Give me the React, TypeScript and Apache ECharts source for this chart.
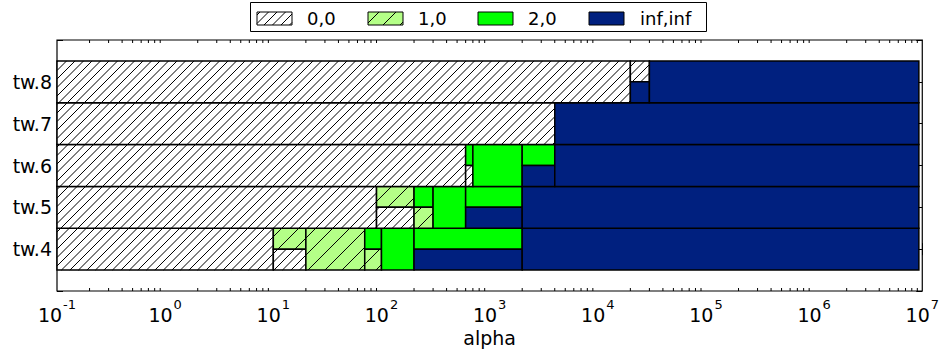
import React, { useEffect, useRef } from "react";
import * as echarts from "echarts";

// ---------- data ----------
const categories = ["tw.4", "tw.5", "tw.6", "tw.7", "tw.8"];
const classNames = ["0,0", "1,0", "2,0", "inf,inf"];
// alpha at which each class begins, upper half of each bar (per category)
const upperStart10 = [10, 90, 600, 4000, 30000];
const upperStart20 = [70, 200, 600, 4000, 30000];
const upperStartInf = [2000, 2000, 4000, 4000, 30000];
// alpha at which each class begins, lower half of each bar
const lowerStart10 = [20, 200, 700, 4000, 20000];
const lowerStart20 = [100, 300, 700, 4000, 20000];
const lowerStartInf = [200, 600, 2000, 4000, 20000];
const alphaStart = 0.1;
const alphaEnd = 9.3e6;
const axisMin = 0.1;
const axisMax = 1e7;
const decadeExponents = [-1, 0, 1, 2, 3, 4, 5, 6];
const minorMultipliers = [2, 3, 4, 5, 6, 7, 8, 9];

// ---------- styles ----------
const classColors = ["#ffffff", "#b4ff87", "#00ff00", "#00207f"];
const classHatch = [8.5, 17, 0, 0];
const FONT = '"DejaVu Sans", sans-serif';

function classAt(starts: number[][], r: number, a: number) {
  let c = 0;
  for (let k = 0; k < starts.length; k++) if (a >= starts[k][r]) c = k + 1;
  return c;
}

function buildSegments() {
  const up = [upperStart10, upperStart20, upperStartInf];
  const lo = [lowerStart10, lowerStart20, lowerStartInf];
  const out: number[][] = [];
  categories.forEach((_, r) => {
    const br = Array.from(
      new Set([alphaStart, ...up.map((s) => s[r]), ...lo.map((s) => s[r]), alphaEnd])
    )
      .filter((v) => v >= alphaStart && v <= alphaEnd)
      .sort((p, q) => p - q);
    for (let i = 0; i < br.length - 1; i++) {
      const a = br[i], b = br[i + 1];
      const cu = classAt(up, r, a), cl = classAt(lo, r, a);
      if (cu === cl) out.push([a, b, r, 0, cu]);
      else {
        out.push([a, b, r, 1, cu]);
        out.push([a, b, r, 2, cl]);
      }
    }
  });
  return out;
}

function hatchLines(x0: number, y0: number, x1: number, y1: number, s: number) {
  const res: any[] = [];
  if (!s) return res;
  const cStart = Math.ceil((x0 + y0) / s) * s;
  for (let c = cStart; c < x1 + y1; c += s) {
    const xa = Math.max(x0, c - y1);
    const xb = Math.min(x1, c - y0);
    if (xb - xa <= 0.2) continue;
    res.push({
      type: "line",
      shape: { x1: xa, y1: c - xa, x2: xb, y2: c - xb },
      style: { stroke: "#000", lineWidth: 1 },
      silent: true,
    });
  }
  return res;
}

function patch(x0: number, y0: number, x1: number, y1: number, cls: number, lw: number) {
  return [
    { type: "rect", shape: { x: x0, y: y0, width: x1 - x0, height: y1 - y0 }, style: { fill: classColors[cls], stroke: "none" } },
    ...hatchLines(x0, y0, x1, y1, classHatch[cls]),
    { type: "rect", shape: { x: x0, y: y0, width: x1 - x0, height: y1 - y0 }, style: { fill: "none", stroke: "#000", lineWidth: lw } },
  ];
}

export default function App() {
  const ref = useRef<HTMLDivElement>(null);
  useEffect(() => {
    if (!ref.current) return;
    const chart = echarts.init(ref.current, undefined, { renderer: "svg" });
    const segments = buildSegments();
    const minorTicks: number[][] = [];
    decadeExponents.forEach((e) =>
      minorMultipliers.forEach((m) => minorTicks.push([m * Math.pow(10, e), -1]))
    );

    const legendPatchX = [257, 368, 478, 589];
    const legendTextX = [307, 418, 528, 640];
    const legendEls: any[] = [
      { type: "rect", shape: { x: 250.5, y: 2.5, width: 456, height: 29 }, style: { fill: "#fff", stroke: "#000", lineWidth: 1 } },
    ];
    classNames.forEach((n, i) => {
      legendEls.push(...patch(legendPatchX[i], 12, legendPatchX[i] + 35, 25, i, 1));
      legendEls.push({
        type: "text",
        x: legendTextX[i],
        y: 18.5,
        style: { text: n, fill: "#000", fontSize: 18, fontFamily: FONT, verticalAlign: "middle", align: "left" },
      });
    });

    const xLabel = {
      fontFamily: FONT,
      color: "#000",
      margin: 7,
      formatter: (v: number) => `{b|10}{s|${Math.round(Math.log10(v))}}`,
      rich: {
        b: { fontSize: 19, fontFamily: FONT, color: "#000", verticalAlign: "bottom", lineHeight: 26 },
        s: { fontSize: 13, fontFamily: FONT, color: "#000", verticalAlign: "top", lineHeight: 26, padding: [0, 0, 0, 1] },
      },
    };

    chart.setOption({
      animation: false,
      backgroundColor: "#fff",
      grid: { left: 57, right: 15, top: 40, bottom: 62, show: true, borderColor: "#000", borderWidth: 1.2, backgroundColor: "#fff" },
      xAxis: [
        {
          type: "log",
          logBase: 10,
          min: axisMin,
          max: axisMax,
          splitNumber: 8,
          name: "alpha",
          nameLocation: "middle",
          nameGap: 35,
          nameTextStyle: { fontSize: 19, fontFamily: FONT, color: "#000" },
          axisLine: { show: false },
          axisTick: { show: true, inside: true, length: 6, lineStyle: { color: "#000" } },
          axisLabel: xLabel,
          splitLine: { show: false },
        },
        {
          type: "log",
          logBase: 10,
          min: axisMin,
          max: axisMax,
          splitNumber: 8,
          position: "top",
          axisLine: { show: false },
          axisTick: { show: true, inside: true, length: 6, lineStyle: { color: "#000" } },
          axisLabel: { show: false },
          splitLine: { show: false },
        },
      ],
      yAxis: [
        {
          type: "value",
          min: -1,
          max: 5,
          interval: 1,
          axisLine: { show: false },
          axisTick: { show: true, inside: true, length: 6, lineStyle: { color: "#000" } },
          axisLabel: {
            fontSize: 19,
            fontFamily: FONT,
            color: "#000",
            margin: 5,
            formatter: (v: number) => categories[v] ?? "",
          },
          splitLine: { show: false },
        },
        {
          type: "value",
          min: -1,
          max: 5,
          interval: 1,
          position: "right",
          axisLine: { show: false },
          axisTick: { show: true, inside: true, length: 6, lineStyle: { color: "#000" } },
          axisLabel: { show: false },
          splitLine: { show: false },
        },
      ],
      graphic: { elements: legendEls },
      series: [
        {
          type: "custom",
          xAxisIndex: 0,
          yAxisIndex: 0,
          silent: true,
          encode: { x: [0, 1], y: 2 },
          data: segments,
          renderItem: (params: any, api: any) => {
            const a = api.value(0), b = api.value(1), r = api.value(2);
            const part = api.value(3), cls = api.value(4);
            const pA = api.coord([a, r]);
            const pB = api.coord([b, r]);
            const yT = api.coord([a, r + 0.5])[1];
            const yB = api.coord([a, r - 0.5])[1];
            const yM = pA[1];
            let y0 = yT, y1 = yB;
            if (part === 1) y1 = yM;
            if (part === 2) y0 = yM;
            return { type: "group", children: patch(pA[0], y0, pB[0], y1, cls, 1.5) };
          },
          z: 2,
        },
        {
          type: "custom",
          xAxisIndex: 0,
          yAxisIndex: 0,
          silent: true,
          encode: { x: 0, y: 1 },
          data: minorTicks,
          renderItem: (params: any, api: any) => {
            const v = api.value(0);
            const pb = api.coord([v, -1]);
            const pt = api.coord([v, 5]);
            return {
              type: "group",
              children: [
                { type: "line", shape: { x1: pb[0], y1: pb[1], x2: pb[0], y2: pb[1] - 3 }, style: { stroke: "#000", lineWidth: 1 } },
                { type: "line", shape: { x1: pt[0], y1: pt[1], x2: pt[0], y2: pt[1] + 3 }, style: { stroke: "#000", lineWidth: 1 } },
              ],
            };
          },
          z: 3,
        },
      ],
    });
    return () => chart.dispose();
  }, []);
  return (
    <div
      ref={ref}
      style={{ position: "fixed", left: 0, top: 0, width: 942, height: 353, background: "#fff" }}
    />
  );
}
